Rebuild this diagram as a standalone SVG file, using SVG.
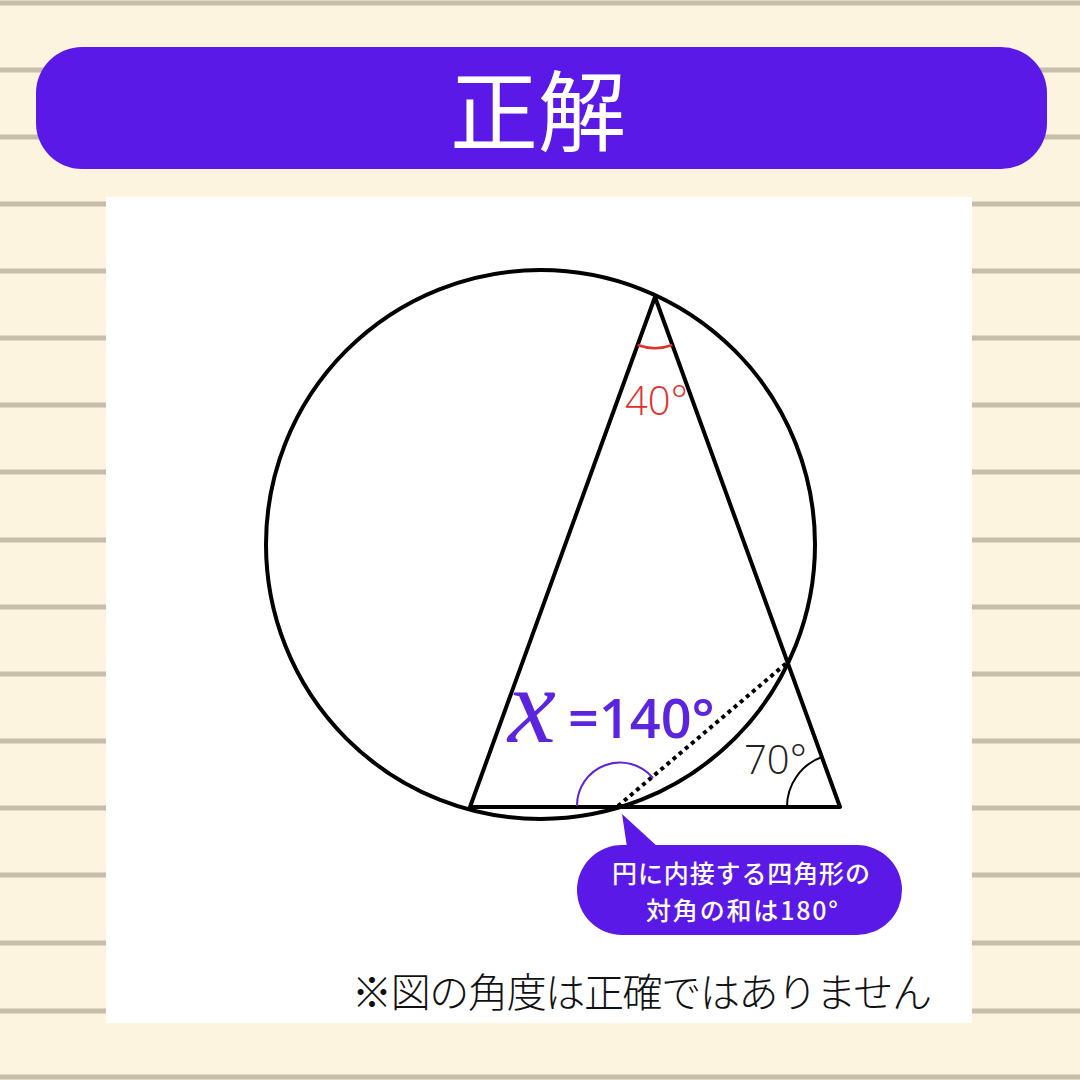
<svg xmlns="http://www.w3.org/2000/svg" width="1080" height="1080" viewBox="0 0 1080 1080">
<style>
.stripe{stroke:#c6bea9;stroke-width:5}
.geo{fill:none;stroke:#000;stroke-width:4;stroke-linejoin:round}
.thin{font-family:"Open Sans","Noto Sans",sans-serif;font-weight:300;font-size:40px}
.jp{font-family:"Noto Sans CJK JP",sans-serif}
</style>
<rect x="0" y="0" width="1080" height="1080" fill="#fdf4e0"/>
<g id="stripes">
<line class="stripe" x1="0" y1="3" x2="1080" y2="3"/>
<line class="stripe" x1="0" y1="70" x2="1080" y2="70"/>
<line class="stripe" x1="0" y1="137" x2="1080" y2="137"/>
<line class="stripe" x1="0" y1="204" x2="1080" y2="204"/>
<line class="stripe" x1="0" y1="271" x2="1080" y2="271"/>
<line class="stripe" x1="0" y1="338" x2="1080" y2="338"/>
<line class="stripe" x1="0" y1="405" x2="1080" y2="405"/>
<line class="stripe" x1="0" y1="472" x2="1080" y2="472"/>
<line class="stripe" x1="0" y1="540" x2="1080" y2="540"/>
<line class="stripe" x1="0" y1="607" x2="1080" y2="607"/>
<line class="stripe" x1="0" y1="674" x2="1080" y2="674"/>
<line class="stripe" x1="0" y1="741" x2="1080" y2="741"/>
<line class="stripe" x1="0" y1="808" x2="1080" y2="808"/>
<line class="stripe" x1="0" y1="875" x2="1080" y2="875"/>
<line class="stripe" x1="0" y1="943" x2="1080" y2="943"/>
<line class="stripe" x1="0" y1="1011" x2="1080" y2="1011"/>
<line class="stripe" x1="0" y1="1077" x2="1080" y2="1077"/>
</g>
<g id="title">
<rect x="36" y="47" width="1011" height="122" rx="46" ry="46" fill="#5b19e8"/>
<text x="538" y="105" dominant-baseline="central" text-anchor="middle" class="jp" font-size="88" font-weight="400" fill="#fff">正解</text>
</g>
<rect id="panel" x="106" y="197" width="866" height="826" fill="#fff"/>
<g id="figure">
<circle class="geo" cx="540.5" cy="544.5" r="274.5"/>
<polygon class="geo" points="655,297 470,807 840,807"/>
</g>
<g id="connectors">
<line x1="618" y1="806" x2="789" y2="661" stroke="#000" stroke-width="4" stroke-dasharray="4 4"/>
</g>
<g id="angle40">
<path d="M637.6,345 A51,51 0 0 0 672.4,345" fill="none" stroke="#e0302a" stroke-width="2.5"/>
<text class="thin" x="625" y="415" fill="#e0302a">40°</text>
</g>
<g id="angle70">
<path d="M787,807 A53,53 0 0 1 822,757" fill="none" stroke="#000" stroke-width="2"/>
<text class="thin" x="744" y="774" fill="#222">70°</text>
</g>
<g id="answer">
<path d="M577,806 A43,43 0 0 1 653,778" fill="none" stroke="#5b25d8" stroke-width="2"/>
<text x="508" y="742" font-family="Liberation Serif,serif" font-style="italic" font-size="108" fill="#5b25e0">x</text>
<text x="568" y="738" font-family="Open Sans,Noto Sans,sans-serif" font-weight="600" font-size="54" fill="#5b25e0">=140°</text>
</g>
<g id="callout">
<polygon points="622,814 658,847 627,847" fill="#5b19e8"/>
<rect x="577" y="845" width="325" height="90" rx="45" ry="45" fill="#5b19e8"/>
<text x="741" y="883" text-anchor="middle" class="jp" font-size="25" font-weight="500" fill="#fff" textLength="258" lengthAdjust="spacing">円に内接する四角形の</text>
<text x="742" y="920" text-anchor="middle" class="jp" font-size="25" font-weight="500" fill="#fff" textLength="192" lengthAdjust="spacing">対角の和は180°</text>
</g>
<g id="note">
<text x="642" y="1007" text-anchor="middle" class="jp" font-size="40" font-weight="300" fill="#111" textLength="580" lengthAdjust="spacing">※図の角度は正確ではありません</text>
</g>
</svg>
